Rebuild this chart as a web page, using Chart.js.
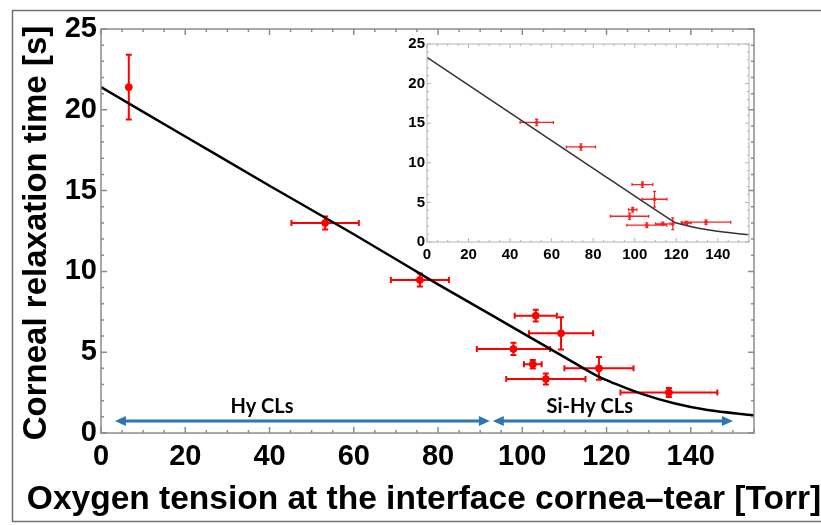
<!DOCTYPE html>
<html>
<head>
<meta charset="utf-8">
<script src="https://cdn.jsdelivr.net/npm/chart.js@4.4.1/dist/chart.umd.min.js"></script>
<style>
  html, body { margin: 0; padding: 0; background: #fff; }
  #wrap { position: relative; width: 821px; height: 525px; overflow: hidden; }
  #main { position: absolute; left: 0; top: 0; }
  #inset { position: absolute; left: 395px; top: 33px; }
</style>
</head>
<body>
<div id="wrap">
  <canvas id="main" width="821" height="525"></canvas>
  <canvas id="inset" width="362" height="235"></canvas>
</div>
<script>
// --------- Données du graphique principal ----------
const mainX    = [6.6, 53.2, 75.7, 103.2, 109.2, 97.9, 102.5, 118.2, 105.6, 134.8];
const mainY    = [21.4, 13.0, 9.47, 7.26, 6.17, 5.2, 4.25, 4.0, 3.34, 2.5];
const mainXErr = [0, 8, 6.9, 5, 7.6, 8.7, 2.1, 8.2, 9.4, 11.5];
const mainYErr = [2.0, 0.4, 0.4, 0.36, 1.0, 0.38, 0.26, 0.7, 0.34, 0.28];

// courbe du modèle
const fitX = [0, 20, 40, 60, 80, 100, 110, 118, 122, 128, 136, 144, 155];
const fitY = [21.4, 18.35, 15.3, 12.3, 9.2, 6.2, 4.7, 3.5, 3.05, 2.45, 1.84, 1.42, 1.1];

const xTickLabels = [0, 20, 40, 60, 80, 100, 120, 140];
const yTickLabels = [0, 5, 10, 15, 20, 25];

// flèches des deux groupes de lentilles
const groupNames  = ["Hy CLs", "Si-Hy CLs"];
const groupFrom   = [3.3, 93];
const groupTo     = [92.3, 150];
const groupLabelX = [38.2, 116];
const groupArrowY = 0.75;
const groupLabelY = 1.63;

const xTitle = "Oxygen tension at the interface cornea\u2013tear [Torr]";
const yTitle = "Corneal relaxation time [s]";

// --------- Données de l'encart ----------
const insetX    = [52.8, 74.1, 103.7, 109.5, 99.0, 97.5, 105.8, 113.5, 118.3, 125, 134.3];
const insetY    = [15.1, 12.0, 7.25, 5.4, 4.08, 3.25, 2.12, 2.3, 2.3, 2.4, 2.5];
const insetXErr = [8, 7, 5, 6, 2, 9.2, 9.6, 3.5, 0, 2.2, 11.9];
const insetYErr = [0.4, 0.4, 0.35, 1.0, 0.3, 0.4, 0.3, 0.2, 0.75, 0.2, 0.3];

const insetFitX = [0, 40, 80, 119, 123, 128, 135, 145, 155];
const insetFitY = [23.3, 16.3, 9.3, 2.5, 2.2, 1.9, 1.55, 1.2, 0.9];

// --------- Plugins ----------
function makeErrorBars(xs, ys, xerr, yerr, color, width, cap) {
    return {
        id: "errorBars",
        beforeDatasetsDraw(chart) {
            const { ctx, scales: { x, y } } = chart;
            ctx.save();
            ctx.strokeStyle = color;
            ctx.lineWidth = width;
            ctx.beginPath();
            xs.forEach((xv, i) => {
                const px = x.getPixelForValue(xv);
                const py = y.getPixelForValue(ys[i]);
                if (xerr[i] > 0) {
                    const l = x.getPixelForValue(xv - xerr[i]);
                    const r = x.getPixelForValue(xv + xerr[i]);
                    ctx.moveTo(l, py); ctx.lineTo(r, py);
                    ctx.moveTo(l, py - cap); ctx.lineTo(l, py + cap);
                    ctx.moveTo(r, py - cap); ctx.lineTo(r, py + cap);
                }
                if (yerr[i] > 0) {
                    const t = y.getPixelForValue(ys[i] + yerr[i]);
                    const b = y.getPixelForValue(ys[i] - yerr[i]);
                    ctx.moveTo(px, t); ctx.lineTo(px, b);
                    ctx.moveTo(px - cap, t); ctx.lineTo(px + cap, t);
                    ctx.moveTo(px - cap, b); ctx.lineTo(px + cap, b);
                }
            });
            ctx.stroke();
            ctx.restore();
        }
    };
}

function makeFrame(color, width, xStep, xMajor, yStep, yMajor, len, majorLen) {
    return {
        id: "frameTicks",
        afterDatasetsDraw(chart) {
            const { ctx, chartArea: a, scales: { x, y } } = chart;
            ctx.save();
            ctx.strokeStyle = color;
            ctx.lineWidth = width;
            ctx.strokeRect(a.left, a.top, a.right - a.left, a.bottom - a.top);
            ctx.beginPath();
            for (let v = 0; v <= x.max + 1e-6; v += xStep) {
                const px = x.getPixelForValue(v);
                const l = (Math.round(v) % xMajor === 0) ? majorLen : len;
                ctx.moveTo(px, a.bottom); ctx.lineTo(px, a.bottom - l);
                ctx.moveTo(px, a.top); ctx.lineTo(px, a.top + l);
            }
            for (let v = 0; v <= y.max + 1e-6; v += yStep) {
                const py = y.getPixelForValue(v);
                const l = (Math.round(v) % yMajor === 0) ? majorLen : len;
                ctx.moveTo(a.left, py); ctx.lineTo(a.left + l, py);
                ctx.moveTo(a.right, py); ctx.lineTo(a.right - l, py);
            }
            ctx.stroke();
            ctx.restore();
        }
    };
}

function arrowHead(ctx, tipX, y, dir, len, half) {
    ctx.beginPath();
    ctx.moveTo(tipX, y);
    ctx.lineTo(tipX - dir * len, y - half);
    ctx.lineTo(tipX - dir * len, y + half);
    ctx.closePath();
    ctx.fill();
}

const groupsPlugin = {
    id: "groups",
    afterDatasetsDraw(chart) {
        const { ctx, scales: { x, y } } = chart;
        ctx.save();
        ctx.strokeStyle = "#2e75b6";
        ctx.fillStyle = "#2e75b6";
        ctx.lineWidth = 3;
        const py = y.getPixelForValue(groupArrowY);
        groupNames.forEach((name, i) => {
            const l = x.getPixelForValue(groupFrom[i]);
            const r = x.getPixelForValue(groupTo[i]);
            ctx.beginPath();
            ctx.moveTo(l + 8, py); ctx.lineTo(r - 8, py);
            ctx.stroke();
            arrowHead(ctx, l, py, -1, 11, 5);
            arrowHead(ctx, r, py, 1, 11, 5);
        });
        ctx.fillStyle = "#000";
        ctx.font = "bold 20px Lato";
        ctx.textAlign = "center";
        ctx.textBaseline = "middle";
        groupNames.forEach((name, i) => {
            ctx.fillText(name, x.getPixelForValue(groupLabelX[i]), y.getPixelForValue(groupLabelY));
        });
        ctx.restore();
    }
};

const titlesPlugin = {
    id: "titles",
    afterDraw(chart) {
        const { ctx } = chart;
        ctx.save();
        // cadre de l'image
        ctx.strokeStyle = "#707070";
        ctx.lineWidth = 1.5;
        ctx.beginPath();
        ctx.moveTo(821, 10.5); ctx.lineTo(12.5, 10.5); ctx.lineTo(12.5, 521.5); ctx.lineTo(821, 521.5);
        ctx.stroke();

        ctx.fillStyle = "#000";
        ctx.font = 'bold 33.5px "Liberation Sans"';
        ctx.textAlign = "center";
        ctx.textBaseline = "alphabetic";
        ctx.fillText(xTitle, 424, 509);
        ctx.font = 'bold 33px "Liberation Sans"';
        ctx.translate(46, 233);
        ctx.rotate(-Math.PI / 2);
        ctx.fillText(yTitle, 0, 0);
        ctx.restore();
    }
};

// --------- Graphique principal ----------
new Chart(document.getElementById("main"), {
    data: {
        datasets: [{
            type: "line",
            data: fitX.map((v, i) => ({ x: v, y: fitY[i] })),
            borderColor: "#000",
            borderWidth: 2.5,
            pointRadius: 0,
            cubicInterpolationMode: "monotone",
            order: 2
        }, {
            type: "scatter",
            data: mainX.map((v, i) => ({ x: v, y: mainY[i] })),
            backgroundColor: "#f00",
            borderColor: "#f00",
            pointRadius: 3.5,
            order: 1
        }]
    },
    options: {
        responsive: false,
        animation: false,
        layout: { padding: { left: 0, top: 29, right: 67, bottom: 0 } },
        plugins: { legend: { display: false }, tooltip: { enabled: false } },
        scales: {
            x: {
                type: "linear", min: 0, max: 155,
                grid: { display: false, drawTicks: false },
                border: { display: false },
                afterFit: s => { s.height = 92; },
                afterBuildTicks: s => { s.ticks = xTickLabels.map(v => ({ value: v })); },
                ticks: {
                    autoSkip: false, maxRotation: 0, padding: 7, color: "#000",
                    font: { family: "Liberation Sans", size: 29, weight: "bold" }
                }
            },
            y: {
                type: "linear", min: 0, max: 25,
                grid: { display: false, drawTicks: false },
                border: { display: false },
                afterFit: s => { s.width = 101; },
                afterBuildTicks: s => { s.ticks = yTickLabels.map(v => ({ value: v })); },
                ticks: {
                    padding: 4, color: "#000",
                    font: { family: "Liberation Sans", size: 29, weight: "bold" }
                }
            }
        }
    },
    plugins: [
        makeErrorBars(mainX, mainY, mainXErr, mainYErr, "#f00", 2, 3),
        makeFrame("#8c8c8c", 1.5, 5, 20, 1, 5, 3, 6),
        groupsPlugin,
        titlesPlugin
    ]
});

// --------- Encart ----------
new Chart(document.getElementById("inset"), {
    data: {
        datasets: [{
            type: "line",
            data: insetFitX.map((v, i) => ({ x: v, y: insetFitY[i] })),
            borderColor: "#333",
            borderWidth: 1.5,
            pointRadius: 0,
            tension: 0.2,
            order: 2
        }, {
            type: "scatter",
            data: insetX.map((v, i) => ({ x: v, y: insetY[i] })),
            backgroundColor: "#ff2020",
            borderColor: "#ff2020",
            pointRadius: 1.5,
            order: 1
        }]
    },
    options: {
        responsive: false,
        animation: false,
        layout: { padding: { left: 0, top: 10, right: 8, bottom: 0 } },
        plugins: { legend: { display: false }, tooltip: { enabled: false } },
        scales: {
            x: {
                type: "linear", min: 0, max: 155,
                grid: { display: false, drawTicks: false },
                border: { display: false },
                afterFit: s => { s.height = 26; },
                afterBuildTicks: s => { s.ticks = xTickLabels.map(v => ({ value: v })); },
                ticks: {
                    autoSkip: false, maxRotation: 0, padding: 4, color: "#000",
                    font: { family: "Liberation Sans", size: 15, weight: "bold" }
                }
            },
            y: {
                type: "linear", min: 0, max: 25,
                grid: { display: false, drawTicks: false },
                border: { display: false },
                afterFit: s => { s.width = 32; },
                afterBuildTicks: s => { s.ticks = yTickLabels.map(v => ({ value: v })); },
                ticks: {
                    padding: 2, color: "#000",
                    font: { family: "Liberation Sans", size: 15, weight: "bold" }
                }
            }
        }
    },
    plugins: [
        makeErrorBars(insetX, insetY, insetXErr, insetYErr, "#ff2020", 1.3, 1.5),
        makeFrame("#b4b4b4", 1, 5, 20, 1, 5, 2, 4)
    ]
});
</script>
</body>
</html>
